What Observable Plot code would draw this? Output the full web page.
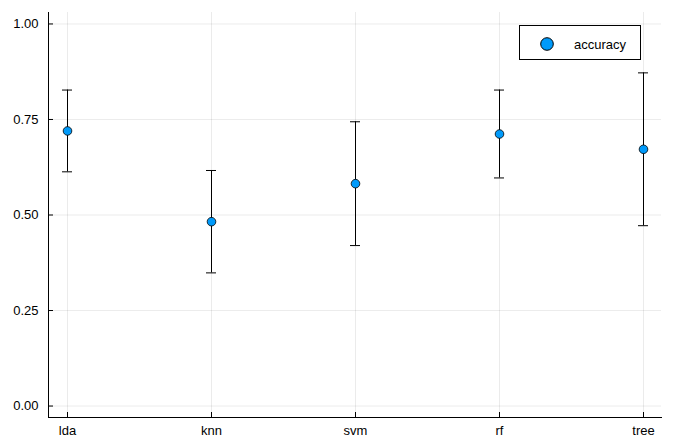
<!DOCTYPE html>
<html>
<head>
<meta charset="utf-8">
<script src="https://cdn.jsdelivr.net/npm/d3@7"></script>
<script src="https://cdn.jsdelivr.net/npm/@observablehq/plot@0.6"></script>
<style>
  html, body { margin: 0; padding: 0; background: #fff; }
  #wrap { position: relative; width: 673px; height: 448px; font-family: "Liberation Sans", Arial, sans-serif; }
  #legend { position: absolute; left: 519px; top: 25px; width: 122px; height: 35px; border: 1px solid #000; background: #fff; box-sizing: border-box; }
  #legend svg { position: absolute; left: 0; top: 0; }
</style>
</head>
<body>
<div id="wrap"></div>
<script>
const categories = ["lda", "knn", "svm", "rf", "tree"];
const accuracy = [0.720, 0.4825, 0.582, 0.712, 0.672];
const errors = [0.107, 0.134, 0.162, 0.115, 0.200];
const yTicks = [0, 0.25, 0.5, 0.75, 1.0];
const seriesName = "accuracy";

const data = categories.map((c, i) => ({
  model: c,
  acc: accuracy[i],
  lo: accuracy[i] - errors[i],
  hi: accuracy[i] + errors[i]
}));

const capWidth = 10;
const pInner = 1 - capWidth / 144.4;
const font = "Liberation Sans, Arial, sans-serif";

const chart = Plot.plot({
  width: 673,
  height: 448,
  marginLeft: 48,
  marginRight: 12,
  marginTop: 12,
  marginBottom: 31,
  style: { fontFamily: font, fontSize: "13px", color: "#000", background: "#fff" },
  x: { type: "band", domain: categories, paddingInner: pInner, paddingOuter: 0.088, label: null },
  y: { domain: [-0.03, 1.03], label: null },
  marks: [
    Plot.gridY(yTicks, { stroke: "#000", strokeOpacity: 0.08 }),
    Plot.gridX(categories, { stroke: "#000", strokeOpacity: 0.08 }),
    Plot.axisY(yTicks, { tickSize: 0, tickPadding: 10, tickFormat: d3.format(".2f"), fontSize: 13, fill: "#000" }),
    Plot.axisX(categories, { tickSize: 0, tickPadding: 8, fontSize: 13, fill: "#000" }),
    Plot.axisY(yTicks, { tickSize: -5, tickFormat: () => "", stroke: "#000" }),
    Plot.axisX(categories, { tickSize: -5, tickFormat: () => "", stroke: "#000" }),
    Plot.frame({ anchor: "left", stroke: "#000" }),
    Plot.frame({ anchor: "bottom", stroke: "#000" }),
    Plot.ruleX(data, { x: "model", y1: "lo", y2: "hi", stroke: "#000", strokeWidth: 1 }),
    Plot.tickY(data, { x: "model", y: "lo", stroke: "#000", strokeWidth: 1 }),
    Plot.tickY(data, { x: "model", y: "hi", stroke: "#000", strokeWidth: 1 }),
    Plot.dot(data, { x: "model", y: "acc", r: 4.3, fill: "#009AFA", stroke: "#000", strokeWidth: 0.8 })
  ]
});

const wrap = document.getElementById("wrap");
wrap.appendChild(chart);

const legend = document.createElement("div");
legend.id = "legend";
legend.innerHTML = `<svg width="122" height="35">
  <circle cx="27" cy="18" r="6.3" fill="#009AFA" stroke="#000" stroke-width="1"></circle>
  <text x="54" y="22.5" font-family="${font}" font-size="13" fill="#000">${seriesName}</text>
</svg>`;
wrap.appendChild(legend);
</script>
</body>
</html>
